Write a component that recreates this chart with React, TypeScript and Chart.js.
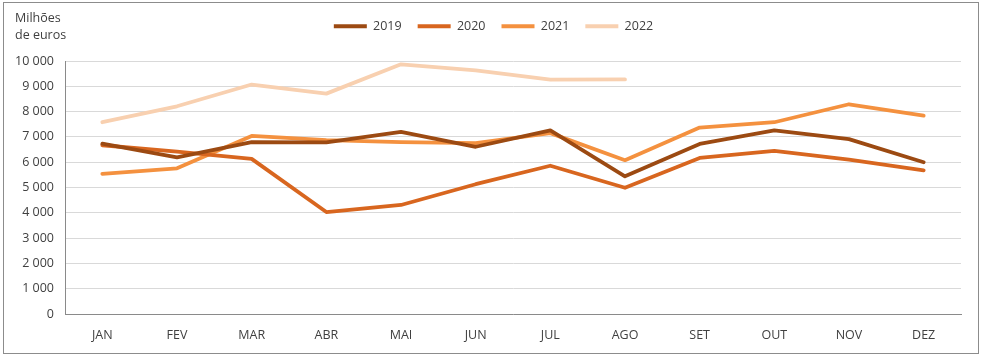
import { useEffect, useRef } from 'react';
import { Chart, registerables } from 'chart.js';

Chart.register(...registerables);

const months = ['JAN', 'FEV', 'MAR', 'ABR', 'MAI', 'JUN', 'JUL', 'AGO', 'SET', 'OUT', 'NOV', 'DEZ'];
const seriesNames = ['2019', '2020', '2021', '2022'];
const values2019 = [6730, 6190, 6790, 6780, 7200, 6610, 7260, 5440, 6720, 7260, 6910, 6000];
const values2020 = [6670, 6420, 6130, 4030, 4310, 5130, 5860, 4990, 6170, 6450, 6100, 5680];
const values2021 = [5540, 5760, 7040, 6870, 6790, 6750, 7150, 6080, 7370, 7580, 8290, 7840];
const values2022 = [7580, 8210, 9070, 8710, 9870, 9630, 9260, 9270];
const yTicks = [0, 1000, 2000, 3000, 4000, 5000, 6000, 7000, 8000, 9000, 10000];
const unitLines = ['Milhões', 'de euros'];

const colors = ['#9c4a12', '#d8661f', '#f4913f', '#f8d0b0'];
const FONT = '"Open Sans", "Noto Sans", sans-serif';
const TEXT = '#404040';

const fmt = (v: number) => String(v).replace(/\B(?=(\d{3})+(?!\d))/g, ' ');

export default function App() {
  const ref = useRef<HTMLCanvasElement | null>(null);

  useEffect(() => {
    document.body.style.margin = '0';
    const canvas = ref.current;
    if (!canvas) return;

    const frame = {
      id: 'frame',
      beforeDraw(chart: any) {
        const ctx = chart.ctx;
        ctx.save();
        ctx.fillStyle = '#ffffff';
        ctx.fillRect(0, 0, chart.width, chart.height);
        ctx.strokeStyle = '#8c8c8c';
        ctx.lineWidth = 1;
        ctx.strokeRect(3.5, 2.5, 975, 351);
        ctx.restore();
      },
      afterDraw(chart: any) {
        const ctx = chart.ctx;
        ctx.save();
        ctx.fillStyle = TEXT;
        ctx.font = `12.5px ${FONT}`;
        ctx.textAlign = 'left';
        ctx.textBaseline = 'middle';
        unitLines.forEach((t, i) => ctx.fillText(t, 15, 18 + i * 17));
        ctx.restore();
      },
    };

    const legendFit = {
      id: 'legendFit',
      beforeLayout(chart: any) {
        const lg = chart.legend;
        if (lg && !lg._patchedFit) {
          const fit = lg.fit.bind(lg);
          lg.fit = function () {
            fit();
            this.height = 57;
          };
          lg._patchedFit = true;
        }
      },
      afterLayout(chart: any) {
        const lg = chart.legend;
        if (lg) {
          lg.left += 13;
          lg.right += 13;
        }
      },
    };

    const data = [values2019, values2020, values2021, values2022];

    const chart = new Chart(canvas, {
      type: 'line',
      data: {
        labels: months,
        datasets: seriesNames.map((name, i) => ({
          label: name,
          data: data[i],
          borderColor: colors[i],
          backgroundColor: colors[i],
          borderWidth: 3.8,
          pointRadius: 0,
          tension: 0,
          fill: false,
          borderCapStyle: 'round' as const,
          borderJoinStyle: 'round' as const,
        })),
      },
      options: {
        responsive: false,
        animation: false,
        layout: { padding: { top: 4, left: 0, right: 21, bottom: 0 } },
        plugins: {
          tooltip: { enabled: false },
          legend: {
            position: 'top',
            labels: {
              boxWidth: 33,
              boxHeight: 4,
              padding: 16,
              color: TEXT,
              font: { family: FONT, size: 12.5 },
              useBorderRadius: true,
              borderRadius: 2,
              generateLabels(c: any) {
                return c.data.datasets.map((ds: any, i: number) => ({
                  text: ds.label,
                  fillStyle: ds.borderColor,
                  strokeStyle: ds.borderColor,
                  lineWidth: 0,
                  hidden: false,
                  datasetIndex: i,
                  fontColor: TEXT,
                }));
              },
            },
          },
        },
        scales: {
          x: {
            offset: true,
            grid: { display: false, drawTicks: false },
            border: { display: true, color: '#8a8a8a', width: 1 },
            ticks: { color: TEXT, font: { family: FONT, size: 12.5 }, padding: 14, maxRotation: 0, autoSkip: false },
            afterFit(scale: any) {
              scale.height = 44;
            },
          },
          y: {
            min: 0,
            max: 10000,
            afterBuildTicks(scale: any) {
              scale.ticks = yTicks.map((v) => ({ value: v }));
            },
            grid: { color: '#d9d9d9', drawTicks: false, lineWidth: 1 },
            border: { display: true, color: '#8a8a8a', width: 1 },
            ticks: {
              color: TEXT,
              font: { family: FONT, size: 12.5 },
              padding: 11,
              callback: (v: any) => fmt(Number(v)),
            },
            afterFit(scale: any) {
              scale.width = 65;
            },
          },
        },
      },
      plugins: [frame, legendFit],
    });

    return () => chart.destroy();
  }, []);

  return (
    <div style={{ width: 982, height: 358 }}>
      <canvas ref={ref} width={982} height={358} style={{ display: 'block' }} />
    </div>
  );
}
